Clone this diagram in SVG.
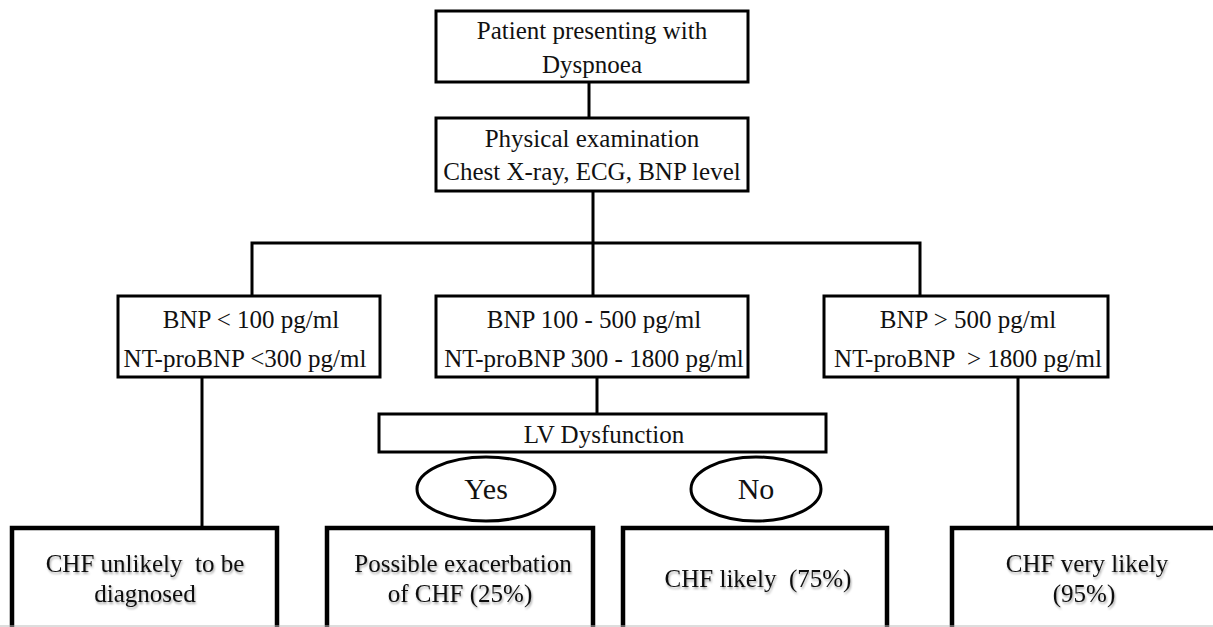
<svg xmlns="http://www.w3.org/2000/svg" width="1213" height="627" viewBox="0 0 1213 627">
<defs>
<filter id="sh" x="-10%" y="-30%" width="120%" height="160%">
<feDropShadow dx="1" dy="2" stdDeviation="1.2" flood-color="#000" flood-opacity="0.35"/>
</filter>
<style>
.box{fill:#fff;stroke:#000;stroke-width:3}
.bbox{fill:#fff;stroke:#000;stroke-width:4.5}
.ell{fill:#fff;stroke:#000;stroke-width:3}
.ln{fill:none;stroke:#000;stroke-width:3}
text{font-family:"Liberation Serif","Times New Roman",serif;font-size:25px;fill:#111;text-anchor:middle;white-space:pre}
.big{font-size:30px}
.shd{filter:url(#sh)}
</style>
</defs>
<rect width="1213" height="627" fill="#fff"/>
<g id="connectors">
<path class="ln" d="M589,82 V118"/>
<path class="ln" d="M593,191 V243 M252,296 V243 H920 V296 M593,243 V296"/>
<path class="ln" d="M202,377 V528"/>
<path class="ln" d="M597,377 V414"/>
<path class="ln" d="M1018,377 V528"/>
</g>
<g id="n-start">
<rect class="box" x="436" y="11" width="312" height="71"/>
<text x="592" y="39">Patient presenting with</text>
<text x="592" y="73">Dyspnoea</text>
</g>
<g id="n-exam">
<rect class="box" x="436" y="118" width="312" height="73"/>
<text x="592" y="147">Physical examination</text>
<text x="592" y="180">Chest X-ray, ECG, BNP level</text>
</g>
<g id="n-low">
<rect class="box" x="118" y="296" width="262" height="81"/>
<text x="251" y="328">BNP &lt; 100 pg/ml</text>
<text x="245" y="367">NT-proBNP &lt;300 pg/ml</text>
</g>
<g id="n-mid">
<rect class="box" x="436" y="296" width="312" height="81"/>
<text x="594" y="328">BNP 100 - 500 pg/ml</text>
<text x="594" y="367">NT-proBNP 300 - 1800 pg/ml</text>
</g>
<g id="n-high">
<rect class="box" x="824" y="296" width="284" height="81"/>
<text x="968" y="328">BNP &gt; 500 pg/ml</text>
<text x="968" y="367">NT-proBNP  &gt; 1800 pg/ml</text>
</g>
<g id="n-lv">
<rect class="box" x="379" y="414" width="447" height="38"/>
<text x="604" y="443">LV Dysfunction</text>
</g>
<g id="n-yes">
<ellipse class="ell" cx="486" cy="489" rx="69" ry="32"/>
<text class="big" x="486" y="499">Yes</text>
</g>
<g id="n-no">
<ellipse class="ell" cx="756" cy="489" rx="65" ry="32"/>
<text class="big" x="756" y="499">No</text>
</g>
<g id="n-unlikely">
<rect class="bbox" x="12" y="528" width="265" height="120"/>
<text class="shd" x="145" y="572">CHF unlikely  to be</text>
<text class="shd" x="145" y="602">diagnosed</text>
</g>
<g id="n-possible">
<rect class="bbox" x="327" y="528" width="266" height="120"/>
<text class="shd" x="463" y="572">Possible exacerbation</text>
<text class="shd" x="460" y="602">of CHF (25%)</text>
</g>
<g id="n-likely">
<rect class="bbox" x="623" y="528" width="264" height="120"/>
<text class="shd" x="758" y="587">CHF likely  (75%)</text>
</g>
<g id="n-verylikely">
<rect class="bbox" x="952" y="528" width="268" height="120"/>
<text class="shd" x="1087" y="572">CHF very likely</text>
<text class="shd" x="1084" y="602">(95%)</text>
</g>
<line x1="0" y1="626" x2="1213" y2="626" stroke="#bbb" stroke-width="1"/>
</svg>
